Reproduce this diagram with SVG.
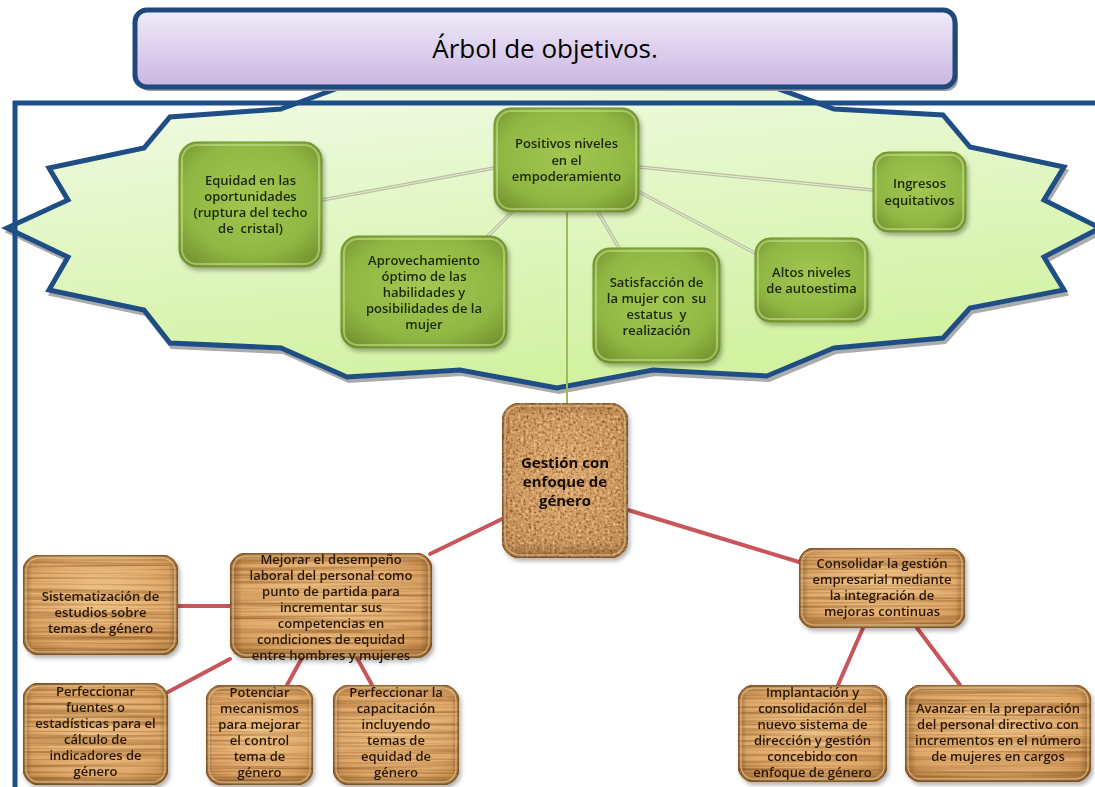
<svg xmlns="http://www.w3.org/2000/svg" width="1095" height="787" viewBox="0 0 1095 787">
  <style>
    .gn text { font-family: "Open Sans", "Noto Sans", sans-serif; font-size: 13px; font-weight: 600; fill: #1C2808; text-anchor: middle; }
    .wn text { font-family: "Open Sans", "Noto Sans", sans-serif; font-size: 13px; font-weight: 600; fill: #2B1806; text-anchor: middle; }
    .wn text.big { font-size: 15px; font-weight: 700; fill: #170D03; }
    .pre { white-space: pre; }
    .gbox { fill: url(#greenFill); stroke: #6E8F2B; stroke-width: 1; }
    .ghi { fill: none; stroke: #CBE493; stroke-width: 2; opacity: 0.55; }
    .wbox { fill: url(#woodFill); stroke: #8A5A28; stroke-width: 1; filter: url(#woodTex); }
    .cbox { fill: url(#corkFill); stroke: #8A5A28; stroke-width: 1; filter: url(#corkTex); }
    .edgeH { fill: url(#edgeH); }
    .edgeV { fill: url(#edgeV); }
    .whi { fill: none; stroke: #F6D9A8; stroke-width: 1.5; opacity: 0.55; }
    .soft { fill: none; stroke: #B7C19C; stroke-width: 3.5; stroke-linecap: round; }
    .softc { fill: none; stroke: #E6EBD8; stroke-width: 1.2; stroke-linecap: round; }
    .red { fill: none; stroke: #C8555A; stroke-width: 4; stroke-linecap: round; }
  </style>
  <defs>
    <linearGradient id="burstFill" x1="0" y1="0" x2="0.3" y2="1">
      <stop offset="0" stop-color="#F3FBEA"/>
      <stop offset="1" stop-color="#D2F2A2"/>
    </linearGradient>
    <linearGradient id="titleFill" x1="0" y1="0" x2="0" y2="1">
      <stop offset="0" stop-color="#F0ECF9"/>
      <stop offset="1" stop-color="#CAB5E2"/>
    </linearGradient>
    <radialGradient id="greenFill" cx="0.5" cy="0.45" r="0.7">
      <stop offset="0" stop-color="#A2C752"/>
      <stop offset="0.65" stop-color="#90B743"/>
      <stop offset="1" stop-color="#6F8D2C"/>
    </radialGradient>
    <radialGradient id="woodFill" cx="0.5" cy="0.45" r="0.7">
      <stop offset="0" stop-color="#F0C58A"/>
      <stop offset="0.7" stop-color="#E0A96B"/>
      <stop offset="1" stop-color="#BE8646"/>
    </radialGradient>
    <radialGradient id="corkFill" cx="0.5" cy="0.45" r="0.7">
      <stop offset="0" stop-color="#DCAA74"/>
      <stop offset="1" stop-color="#C38C53"/>
    </radialGradient>
    <linearGradient id="edgeH" x1="0" y1="0" x2="1" y2="0">
      <stop offset="0" stop-color="#4A2A08" stop-opacity="0.4"/>
      <stop offset="0.06" stop-color="#4A2A08" stop-opacity="0"/>
      <stop offset="0.94" stop-color="#4A2A08" stop-opacity="0"/>
      <stop offset="1" stop-color="#4A2A08" stop-opacity="0.4"/>
    </linearGradient>
    <linearGradient id="edgeV" x1="0" y1="0" x2="0" y2="1">
      <stop offset="0" stop-color="#4A2A08" stop-opacity="0.3"/>
      <stop offset="0.08" stop-color="#4A2A08" stop-opacity="0"/>
      <stop offset="0.9" stop-color="#4A2A08" stop-opacity="0"/>
      <stop offset="1" stop-color="#4A2A08" stop-opacity="0.4"/>
    </linearGradient>
    <filter id="shadow" x="-10%" y="-10%" width="125%" height="130%">
      <feDropShadow dx="2" dy="3" stdDeviation="2" flood-color="#000" flood-opacity="0.3"/>
    </filter>
    <!-- horizontal wood grain -->
    <filter id="woodTex" x="0" y="0" width="1" height="1" color-interpolation-filters="sRGB">
      <feTurbulence type="fractalNoise" baseFrequency="0.005 0.35" numOctaves="2" seed="7" result="n"/>
      <feColorMatrix in="n" type="matrix" values="0 0 0 0 0.55  0 0 0 0 0.34  0 0 0 0 0.13  1.7 0 0 0 -0.7" result="g"/>
      <feComposite in="g" in2="SourceAlpha" operator="in" result="g2"/>
      <feMerge><feMergeNode in="SourceGraphic"/><feMergeNode in="g2"/></feMerge>
    </filter>
    <!-- speckled cork -->
    <filter id="corkTex" x="0" y="0" width="1" height="1" color-interpolation-filters="sRGB">
      <feTurbulence type="fractalNoise" baseFrequency="0.38" numOctaves="2" seed="3" result="n"/>
      <feColorMatrix in="n" type="matrix" values="0 0 0 0 0.55  0 0 0 0 0.35  0 0 0 0 0.15  3.5 0 0 0 -1.9" result="dark"/>
      <feColorMatrix in="n" type="matrix" values="0 0 0 0 0.95  0 0 0 0 0.8  0 0 0 0 0.6  -3.5 0 0 0 1.55" result="light"/>
      <feComposite in="dark" in2="SourceAlpha" operator="in" result="d2"/>
      <feComposite in="light" in2="SourceAlpha" operator="in" result="l2"/>
      <feMerge><feMergeNode in="SourceGraphic"/><feMergeNode in="l2"/><feMergeNode in="d2"/></feMerge>
    </filter>
  </defs>

  <rect width="1095" height="787" fill="#FFFFFF"/>

  <!-- burst background -->
  <g id="burst">
    <polygon transform="translate(2,4)" fill="none" stroke="#ABABAB" stroke-width="4" stroke-linejoin="miter"
      points="281,109 360,80 460,87 557,68 654,87 754,80 834,109 943,115 970,147 1064,167 1044,200 1100,228 1044,257 1064,290 970,308 943,338 834,348 767,376 653,370 557,388 460,370 347,377 281,348 170,343 144,310 49,290 68,257 7,228 68,200 49,168 144,148 170,117"/>
    <polygon fill="url(#burstFill)" stroke="#1F4E85" stroke-width="5" stroke-linejoin="miter"
      points="281,109 360,80 460,87 557,68 654,87 754,80 834,109 943,115 970,147 1064,167 1044,200 1100,228 1044,257 1064,290 970,308 943,338 834,348 767,376 653,370 557,388 460,370 347,377 281,348 170,343 144,310 49,290 68,257 7,228 68,200 49,168 144,148 170,117"/>
  </g>

  <!-- frame -->
  <g id="frame" fill="none" stroke="#1F4E87" stroke-width="5">
    <line x1="13" y1="103" x2="1095" y2="103"/>
    <line x1="15" y1="101" x2="15" y2="787"/>
  </g>

  <!-- title -->
  <g id="title">
    <rect x="138" y="14" width="820" height="77" rx="12" fill="#9C9C9C"/>
    <rect x="135" y="10" width="820" height="77" rx="12" fill="url(#titleFill)" stroke="#1F497D" stroke-width="5"/>
    <text x="545" y="58" font-family="'Open Sans', 'Noto Sans', sans-serif" font-size="26" fill="#000" text-anchor="middle">Árbol de objetivos.</text>
  </g>

  <!-- connectors -->
  <g id="connectors">
    <line class="soft" x1="494" y1="168" x2="322" y2="200"/>
    <line class="softc" x1="494" y1="168" x2="322" y2="200"/>
    <line class="soft" x1="512" y1="212" x2="488" y2="236"/>
    <line class="softc" x1="512" y1="212" x2="488" y2="236"/>
    <line class="soft" x1="598" y1="212" x2="619" y2="248"/>
    <line class="softc" x1="598" y1="212" x2="619" y2="248"/>
    <line class="soft" x1="639" y1="192" x2="755" y2="253"/>
    <line class="softc" x1="639" y1="192" x2="755" y2="253"/>
    <line class="soft" x1="639" y1="167" x2="873" y2="190"/>
    <line class="softc" x1="639" y1="167" x2="873" y2="190"/>
    <line x1="567" y1="212" x2="567" y2="403" stroke="#9DBB5E" stroke-width="2"/>

    <line class="red" x1="502" y1="519" x2="430" y2="554"/>
    <line class="red" x1="628" y1="510" x2="799" y2="562"/>
    <line class="red" x1="178" y1="606" x2="230" y2="606"/>
    <line class="red" x1="230" y1="659" x2="168" y2="692"/>
    <line class="red" x1="302" y1="658" x2="287" y2="685"/>
    <line class="red" x1="357" y1="658" x2="372" y2="685"/>
    <line class="red" x1="863" y1="628" x2="838" y2="685"/>
    <line class="red" x1="917" y1="628" x2="960" y2="685"/>
  </g>

  <!-- green objective nodes -->
  <g id="positivos" class="gn" filter="url(#shadow)">
    <rect class="gbox" x="494" y="108" width="145" height="104" rx="17"/>
    <rect class="ghi" x="497" y="111" width="139" height="98" rx="14"/>
    <text x="566.5" y="148">Positivos niveles</text>
    <text x="566.5" y="165">en el</text>
    <text x="566.5" y="181">empoderamiento</text>
  </g>
  <g id="equidad" class="gn" filter="url(#shadow)">
    <rect class="gbox" x="179" y="142" width="143" height="125" rx="18"/>
    <rect class="ghi" x="182" y="145" width="137" height="119" rx="15"/>
    <text x="250.5" y="185">Equidad en las</text>
    <text x="250.5" y="201">oportunidades</text>
    <text x="250.5" y="217">(ruptura del techo</text>
    <text x="250.5" y="233" class="pre">de  cristal)</text>
  </g>
  <g id="aprovechamiento" class="gn" filter="url(#shadow)">
    <rect class="gbox" x="341" y="236" width="166" height="112" rx="17"/>
    <rect class="ghi" x="344" y="239" width="160" height="106" rx="14"/>
    <text x="424" y="265">Aprovechamiento</text>
    <text x="424" y="281">óptimo de las</text>
    <text x="424" y="297">habilidades y</text>
    <text x="424" y="313">posibilidades de la</text>
    <text x="424" y="329">mujer</text>
  </g>
  <g id="satisfaccion" class="gn" filter="url(#shadow)">
    <rect class="gbox" x="593" y="248" width="127" height="115" rx="17"/>
    <rect class="ghi" x="596" y="251" width="121" height="109" rx="14"/>
    <text x="656.5" y="287">Satisfacción de</text>
    <text x="656.5" y="303" class="pre">la mujer con  su</text>
    <text x="656.5" y="319" class="pre">estatus  y</text>
    <text x="656.5" y="335">realización</text>
  </g>
  <g id="autoestima" class="gn" filter="url(#shadow)">
    <rect class="gbox" x="755" y="238" width="113" height="84" rx="15"/>
    <rect class="ghi" x="758" y="241" width="107" height="78" rx="12"/>
    <text x="811.5" y="277">Altos niveles</text>
    <text x="811.5" y="293">de autoestima</text>
  </g>
  <g id="ingresos" class="gn" filter="url(#shadow)">
    <rect class="gbox" x="873" y="152" width="93" height="80" rx="15"/>
    <rect class="ghi" x="876" y="155" width="87" height="74" rx="12"/>
    <text x="919.5" y="188">Ingresos</text>
    <text x="919.5" y="205">equitativos</text>
  </g>

  <!-- cork root node -->
  <g id="gestion" class="wn" filter="url(#shadow)">
    <rect class="cbox" x="502" y="403" width="126" height="155" rx="18"/>
    <rect class="edgeH" x="502" y="403" width="126" height="155" rx="18"/>
    <rect class="edgeV" x="502" y="403" width="126" height="155" rx="18"/>
    <rect class="whi" x="505" y="406" width="120" height="149" rx="15"/>
    <text class="big" x="565" y="468">Gestión con</text>
    <text class="big" x="565" y="487">enfoque de</text>
    <text class="big" x="565" y="506">género</text>
  </g>

  <!-- wooden action nodes -->
  <g id="mejorar" class="wn" filter="url(#shadow)">
    <rect class="wbox" x="230" y="553" width="202" height="105" rx="16"/>
    <rect class="edgeH" x="230" y="553" width="202" height="105" rx="16"/>
    <rect class="edgeV" x="230" y="553" width="202" height="105" rx="16"/>
    <rect class="whi" x="233" y="556" width="196" height="99" rx="13"/>
    <text x="331" y="564">Mejorar el desempeño</text>
    <text x="331" y="580">laboral del personal como</text>
    <text x="331" y="596">punto de partida para</text>
    <text x="331" y="612">incrementar sus</text>
    <text x="331" y="628">competencias en</text>
    <text x="331" y="644">condiciones de equidad</text>
    <text x="331" y="660">entre hombres y mujeres</text>
  </g>
  <g id="sistematizacion" class="wn" filter="url(#shadow)">
    <rect class="wbox" x="23" y="555" width="155" height="100" rx="16"/>
    <rect class="edgeH" x="23" y="555" width="155" height="100" rx="16"/>
    <rect class="edgeV" x="23" y="555" width="155" height="100" rx="16"/>
    <rect class="whi" x="26" y="558" width="149" height="94" rx="13"/>
    <text x="100.5" y="601">Sistematización de</text>
    <text x="100.5" y="617">estudios sobre</text>
    <text x="100.5" y="633">temas de género</text>
  </g>
  <g id="fuentes" class="wn" filter="url(#shadow)">
    <rect class="wbox" x="23" y="683" width="145" height="102" rx="16"/>
    <rect class="edgeH" x="23" y="683" width="145" height="102" rx="16"/>
    <rect class="edgeV" x="23" y="683" width="145" height="102" rx="16"/>
    <rect class="whi" x="26" y="686" width="139" height="96" rx="13"/>
    <text x="95.5" y="696">Perfeccionar</text>
    <text x="95.5" y="712">fuentes o</text>
    <text x="95.5" y="728">estadísticas para el</text>
    <text x="95.5" y="744">cálculo de</text>
    <text x="95.5" y="760">indicadores de</text>
    <text x="95.5" y="776">género</text>
  </g>
  <g id="potenciar" class="wn" filter="url(#shadow)">
    <rect class="wbox" x="206" y="685" width="107" height="100" rx="16"/>
    <rect class="edgeH" x="206" y="685" width="107" height="100" rx="16"/>
    <rect class="edgeV" x="206" y="685" width="107" height="100" rx="16"/>
    <rect class="whi" x="209" y="688" width="101" height="94" rx="13"/>
    <text x="259.5" y="697">Potenciar</text>
    <text x="259.5" y="713">mecanismos</text>
    <text x="259.5" y="729">para mejorar</text>
    <text x="259.5" y="745">el control</text>
    <text x="259.5" y="761">tema de</text>
    <text x="259.5" y="777">género</text>
  </g>
  <g id="capacitacion" class="wn" filter="url(#shadow)">
    <rect class="wbox" x="333" y="685" width="126" height="100" rx="16"/>
    <rect class="edgeH" x="333" y="685" width="126" height="100" rx="16"/>
    <rect class="edgeV" x="333" y="685" width="126" height="100" rx="16"/>
    <rect class="whi" x="336" y="688" width="120" height="94" rx="13"/>
    <text x="396" y="697">Perfeccionar la</text>
    <text x="396" y="713">capacitación</text>
    <text x="396" y="729">incluyendo</text>
    <text x="396" y="745">temas de</text>
    <text x="396" y="761">equidad de</text>
    <text x="396" y="777">género</text>
  </g>
  <g id="consolidar" class="wn" filter="url(#shadow)">
    <rect class="wbox" x="799" y="548" width="166" height="80" rx="15"/>
    <rect class="edgeH" x="799" y="548" width="166" height="80" rx="15"/>
    <rect class="edgeV" x="799" y="548" width="166" height="80" rx="15"/>
    <rect class="whi" x="802" y="551" width="160" height="74" rx="12"/>
    <text x="882" y="568">Consolidar la gestión</text>
    <text x="882" y="584">empresarial mediante</text>
    <text x="882" y="600">la integración de</text>
    <text x="882" y="616">mejoras continuas</text>
  </g>
  <g id="implantacion" class="wn" filter="url(#shadow)">
    <rect class="wbox" x="738" y="685" width="149" height="97" rx="16"/>
    <rect class="edgeH" x="738" y="685" width="149" height="97" rx="16"/>
    <rect class="edgeV" x="738" y="685" width="149" height="97" rx="16"/>
    <rect class="whi" x="741" y="688" width="143" height="91" rx="13"/>
    <text x="812.5" y="697">Implantación y</text>
    <text x="812.5" y="713">consolidación del</text>
    <text x="812.5" y="729">nuevo sistema de</text>
    <text x="812.5" y="745">dirección y gestión</text>
    <text x="812.5" y="761">concebido con</text>
    <text x="812.5" y="777">enfoque de género</text>
  </g>
  <g id="avanzar" class="wn" filter="url(#shadow)">
    <rect class="wbox" x="905" y="685" width="186" height="97" rx="16"/>
    <rect class="edgeH" x="905" y="685" width="186" height="97" rx="16"/>
    <rect class="edgeV" x="905" y="685" width="186" height="97" rx="16"/>
    <rect class="whi" x="908" y="688" width="180" height="91" rx="13"/>
    <text x="998" y="713">Avanzar en la preparación</text>
    <text x="998" y="729">del personal directivo con</text>
    <text x="998" y="745">incrementos en el número</text>
    <text x="998" y="761">de mujeres en cargos</text>
  </g>
</svg>
